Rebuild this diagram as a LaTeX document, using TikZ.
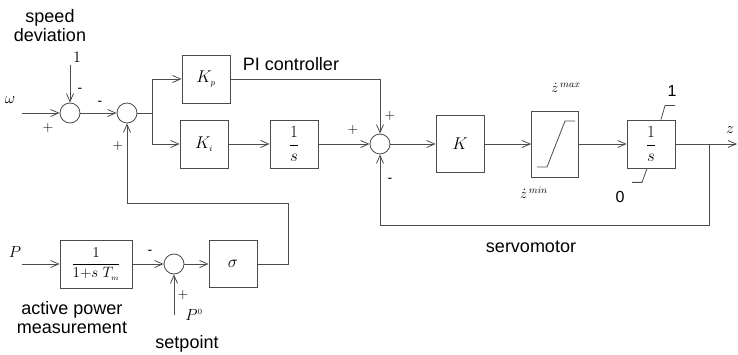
\RequirePackage{fix-cm}
\documentclass[tikz,border=0pt]{standalone}
\usepackage{amsmath}
\usepackage{fontspec}
\setmainfont{Liberation Sans}
\usetikzlibrary{arrows.meta}
\begin{document}
\begin{tikzpicture}[x=1pt,y=-1pt,line width=0.8pt,draw=black!70,
      box/.style={rectangle,draw=black!70,minimum width=48pt,minimum height=48pt,inner sep=0pt,font=\fontsize{17}{20}\selectfont},
      sum/.style={circle,draw=black!70,minimum size=20pt,inner sep=0pt},
      arr/.style={->,>={Straight Barb[length=8pt,width=7pt]}},
      lbl/.style={font=\fontsize{18}{20}\selectfont,align=center,inner sep=0pt},
      sgn/.style={font=\fontsize{14}{14}\selectfont,inner sep=0pt},
      mth/.style={font=\fontsize{16}{16}\selectfont,inner sep=0pt}
    ]
      \useasboundingbox (0,0) rectangle (738,355);
      % governor part
      \node[sum] (sum1) at (70,113) {};
      \node[sum] (sum2) at (127,113) {};
      \node[box] (kp) at (206,79) {$K_{\scriptscriptstyle p}$};
      \node[box] (ki) at (204,144) {$K_{\scriptscriptstyle i}$};
      \node[box] (integ) at (294,144) {$\dfrac{1}{s}$};
      \node[sum] (sum3) at (380,144) {};
      % servomotor
      \node[box,minimum height=57pt] (kbox) at (460,144) {$K$};
      \node[box,minimum width=47pt,minimum height=66pt] (sat) at (555,144) {};
      \node[box] (intg) at (651,144) {$\dfrac{1}{s}$};
      % power loop
      \node[box,minimum width=72pt,font=\fontsize{15}{18}\selectfont] (meas) at (96,264) {$\dfrac{1}{1{+}s\;T_{\scriptscriptstyle m}}$};
      \node[sum] (sum4) at (174,264) {};
      \node[box,minimum height=47pt] (sigma) at (233,264) {$\sigma$};

      \coordinate (win) at (22,113);
      \coordinate (one) at (70,65);
      \coordinate (br1) at (152,113);
      \coordinate (br2) at (709,144);
      \coordinate (zout) at (737,144);
      \coordinate (pin) at (22,264);
      \coordinate (p0) at (174,315);

      \draw[arr] (win) -- (sum1);
      \draw[arr] (one) -- (sum1);
      \draw[arr] (sum1) -- (sum2);
      \draw (sum2) -- (br1);
      \draw[arr] (br1) |- (kp);
      \draw[arr] (br1) |- (ki);
      \draw[arr] (ki) -- (integ);
      \draw[arr] (integ) -- (sum3);
      \draw[arr] (kp) -| (sum3);
      \draw[arr] (sum3) -- (kbox);
      \draw[arr] (kbox) -- (sat);
      \draw[arr] (sat) -- (intg);
      \draw[arr] (intg) -- (zout);
      \draw[arr] (br2) -- ++(0,81) -| (sum3);
      \draw[arr] (pin) -- (meas);
      \draw[arr] (meas) -- (sum4);
      \draw[arr] (p0) -- (sum4);
      \draw[arr] (sum4) -- (sigma);
      \draw[arr] (sigma) -| ++(55,-61) -| (sum2);

      % limiter shapes
      \draw ([shift={(-18,23)}]sat.center) -- ++(10,0) -- ++(18,-46) -- ++(10,0);
      \draw ([shift={(10,0)}]intg.north) -- ++(4,-14) -- ++(10,0);
      \draw ([shift={(-4,0)}]intg.south) -- ++(-5,14) -- ++(-10,0);

      % labels
      \node[lbl] (spd) at (50,26) {speed\\[-1pt]deviation};
      \node[mth] (onel) at (77,57) {$1$};
      \node[sgn] at (80,90) {-};
      \node[sgn] at (48,128) {$+$};
      \node[sgn] at (100,103) {-};
      \node[sgn] at (118,146) {$+$};
      \node[mth] (wl) at (10,100) {$\omega$};
      \node[lbl] (pil) at (291,64) {PI controller};
      \node[sgn] at (390,116) {$+$};
      \node[sgn] at (353,130) {$+$};
      \node[sgn] at (390,180) {-};
      \node[font=\fontsize{14}{14}\selectfont] (zmax) at (566,88) {$\dot{z}^{\,max}$};
      \node[font=\fontsize{14}{14}\selectfont] (zmin) at (534,193) {$\dot{z}^{\,min}$};
      \node[font=\fontsize{16}{16}\selectfont] (upl) at (672,91) {1};
      \node[font=\fontsize{16}{16}\selectfont] (lol) at (620,197) {0};
      \node[mth] (zl) at (730,130) {$z$};
      \node[lbl] (servo) at (531,247) {servomotor};
      \node[mth] (pl) at (15,252) {$P$};
      \node[sgn] at (150,252) {-};
      \node[sgn] at (183,295) {$+$};
      \node[mth] (p0l) at (194,315) {$P^{\scriptscriptstyle 0}$};
      \node[lbl] (apm) at (72,318) {active power\\[-1pt]measurement};
      \node[lbl] (setp) at (187,344) {setpoint};
    \end{tikzpicture}
\end{document}
